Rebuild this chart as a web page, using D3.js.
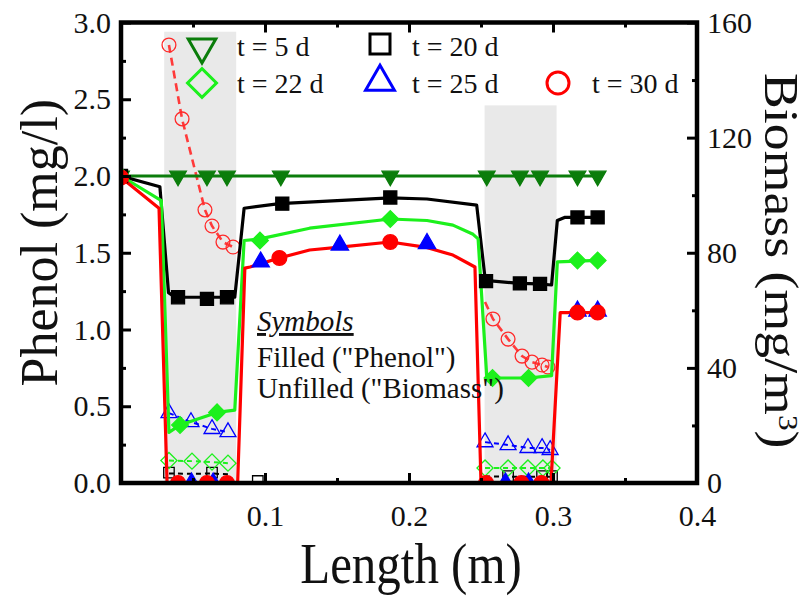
<!DOCTYPE html>
<html><head><meta charset="utf-8">
<script src="https://cdn.jsdelivr.net/npm/d3@7"></script>
<style>body{margin:0;background:#fff}svg{display:block}text{font-family:"Liberation Serif","Times New Roman",serif;fill:#111}</style>
</head><body><svg id="c" width="809" height="597"></svg>
<script>
// ---------- data ----------
const xMajorTicks = [0.1, 0.2, 0.3, 0.4];
const xMinorTicks = [0.05, 0.15, 0.25, 0.35];
const phenolTicks = [0, 0.5, 1.0, 1.5, 2.0, 2.5, 3.0];
const phenolMinor = [0.25, 0.75, 1.25, 1.75, 2.25, 2.75];
const biomassTicks = [0, 40, 80, 120, 160];
const biomassMinor = [20, 60, 100, 140];
// shaded reactor zones: [start, end, top (phenol units)]
const bands = [[0.03, 0.08, 2.94], [0.2525, 0.3025, 2.46]];

// phenol model lines
const phenolLine5 = [[0, 2.0], [0.331, 2.0]];
const phenolLine20 = [[0,2.0],[0.027,1.93],[0.033,1.24],[0.0375,1.21],[0.079,1.21],[0.0855,1.79],[0.11,1.82],[0.187,1.857],[0.2125,1.85],[0.247,1.81],[0.253,1.32],[0.277,1.30],[0.29,1.297],[0.299,1.29],[0.303,1.71],[0.308,1.73],[0.331,1.73]];
const phenolLine22 = [[0,2.0],[0.028,1.84],[0.0333,0.33],[0.041,0.378],[0.0667,0.46],[0.079,0.475],[0.0855,1.58],[0.0965,1.59],[0.131,1.66],[0.187,1.72],[0.2125,1.71],[0.2305,1.68],[0.2445,1.62],[0.248,1.59],[0.254,0.69],[0.258,0.684],[0.283,0.684],[0.299,0.70],[0.303,1.44],[0.331,1.45]];
const phenolLine30 = [[0,1.99],[0.0264,1.79],[0.032,0],[0.081,0],[0.086,1.40],[0.0896,1.407],[0.110,1.466],[0.131,1.518],[0.152,1.537],[0.187,1.57],[0.211,1.537],[0.2305,1.485],[0.2458,1.407],[0.25,0],[0.2986,0],[0.305,1.11],[0.331,1.11]];

// phenol markers (filled)
const phenolMarks5 = [[0,2.0],[0.0396,2.0],[0.0597,2.0],[0.0736,2.0],[0.111,2.0],[0.187,2.0],[0.254,2.0],[0.277,2.0],[0.291,2.0],[0.317,2.0],[0.331,2.0]];
const phenolMarks20 = [[0,2.0],[0.0396,1.21],[0.0597,1.20],[0.0736,1.21],[0.112,1.82],[0.187,1.86],[0.2535,1.315],[0.277,1.30],[0.291,1.297],[0.317,1.73],[0.331,1.73]];
const phenolMarks22 = [[0,2.0],[0.041,0.378],[0.0667,0.46],[0.0965,1.58],[0.187,1.72],[0.258,0.684],[0.283,0.684],[0.317,1.45],[0.331,1.45]];
const phenolMarks25 = [[0.049,0],[0.064,0],[0.097,1.44],[0.152,1.55],[0.2125,1.56],[0.267,0],[0.283,0],[0.317,1.12],[0.331,1.12]];
const phenolMarks30 = [[0,1.99],[0.0396,0],[0.0597,0],[0.0736,0],[0.110,1.466],[0.187,1.57],[0.2535,0],[0.278,0],[0.292,0],[0.317,1.11],[0.331,1.11]];

// biomass (unfilled markers, dashed lines)
const biomassLine30L = [[0.0333,152.2],[0.0424,126.5],[0.0583,94.9],[0.0632,89.3],[0.0708,83.7],[0.0778,82.0]];
const biomassLine30R = [[0.2528,62.9],[0.2583,57],[0.2688,50],[0.2785,44.1],[0.2854,42],[0.2924,41],[0.2965,40.3]];
const biomassMarks30 = [[0.0333,152.2],[0.0424,126.5],[0.0583,94.9],[0.0632,89.3],[0.0708,83.7],[0.0778,82.0],[0.2583,57],[0.2688,50],[0.2785,44.1],[0.2854,42],[0.2924,41],[0.2965,40.3]];
const biomassLine25L = [[0.0333,24.3],[0.0486,21.2],[0.0632,18.8],[0.0743,17.7]];
const biomassLine25R = [[0.2528,14.2],[0.2688,13.2],[0.2826,12.2],[0.2924,12.2],[0.298,11.5]];
const biomassLine22L = [[0.0333,7.8],[0.0493,7.6],[0.0632,7.3],[0.0743,6.9]];
const biomassLine22R = [[0.2528,5.2],[0.2688,5.2],[0.2826,5.2],[0.293,5.2],[0.2993,5.2]];
const biomassLine20L = [[0.0333,3.3],[0.0486,3.2],[0.0632,3.3],[0.0743,3.0]];
const biomassLine20R = [[0.2528,2.3],[0.2688,2.2],[0.2826,2.2],[0.2924,2.2],[0.2993,2.2]];
const biomassMarks20 = [[0.0333,3.6],[0.0632,3.6],[0.095,0.7],[0.2688,2.4],[0.2924,2.4],[0.2993,2.4]];

const legendLabels = ["t = 5 d", "t = 20 d", "t = 22 d", "t = 25 d", "t = 30 d"];
const noteLines = ["Symbols", "Filled (\"Phenol\")", "Unfilled (\"Biomass\")"];

// ---------- drawing ----------
const svg = d3.select("#c");
const L = 121, R = 697, T = 22.5, B = 483;
const x = d3.scaleLinear().domain([0, 0.4]).range([L, R]);
const y = d3.scaleLinear().domain([0, 3]).range([B, T]);
const y2 = d3.scaleLinear().domain([0, 160]).range([B, T]);

const C5 = "#0b7d0b", C20 = "#000", C22 = "#1cf01c", C25 = "#0000ff", C30 = "#ff0000";

svg.append("defs").append("clipPath").attr("id", "clip")
  .append("rect").attr("x", L).attr("y", T).attr("width", R - L).attr("height", B - T);

const plot = svg.append("g").attr("clip-path", "url(#clip)");
plot.selectAll("rect.band").data(bands).join("rect").attr("class", "band")
  .attr("x", d => x(d[0])).attr("width", d => x(d[1]) - x(d[0]))
  .attr("y", d => y(d[2])).attr("height", d => B - y(d[2]))
  .attr("fill", "#e9e9e9");

const line1 = d3.line().x(d => x(d[0])).y(d => y(d[1]));
const line2 = d3.line().x(d => x(d[0])).y(d => y2(d[1]));

function dashed(data, color, w, dash) {
  plot.append("path").datum(data).attr("d", line2).attr("fill", "none")
    .attr("stroke", color).attr("stroke-width", w).attr("stroke-dasharray", dash);
}
const sym = (type, size) => d3.symbol().type(type).size(size)();
function marks(data, scale, type, size, color, filled, rot, sw) {
  plot.selectAll(null).data(data).join("path")
    .attr("d", sym(type, size))
    .attr("transform", d => `translate(${x(d[0])},${scale(d[1])}) rotate(${rot || 0})`)
    .attr("fill", filled ? color : "none")
    .attr("stroke", color).attr("stroke-width", sw || 1.3);
}

// biomass dashed lines + unfilled markers
dashed(biomassLine20L, C20, 2, "5,4"); dashed(biomassLine20R, C20, 2, "5,4");
dashed(biomassLine22L, C22, 2, "5,4"); dashed(biomassLine22R, C22, 2, "5,4");
dashed(biomassLine25L, C25, 2, "5,4"); dashed(biomassLine25R, C25, 2, "5,4");
dashed(biomassLine30L, "#ff3a3a", 2.6, "8,5"); dashed(biomassLine30R, "#ff3a3a", 2.6, "8,5");
marks(biomassMarks20, y2, d3.symbolSquare, 110, C20, false, 0, 1.3);
marks(biomassLine22L.concat(biomassLine22R), y2, d3.symbolSquare, 130, C22, false, 45, 1.3);
marks(biomassLine25L.concat(biomassLine25R), y2, d3.symbolTriangle, 110, C25, false, 0, 1.3);
marks(biomassMarks30, y2, d3.symbolCircle, 150, "#ff2a2a", false, 0, 1.3);

// phenol lines
[[phenolLine5, C5], [phenolLine20, C20], [phenolLine22, C22], [phenolLine30, C30]].forEach(([d, c]) => {
  plot.append("path").datum(d).attr("d", line1).attr("fill", "none")
    .attr("stroke", c).attr("stroke-width", 3.2).attr("stroke-linejoin", "round");
});
// phenol filled markers
marks(phenolMarks5, y, d3.symbolTriangle, 120, C5, true, 180, 0);
marks(phenolMarks20, y, d3.symbolSquare, 170, C20, true, 0, 0);
marks(phenolMarks22, y, d3.symbolSquare, 140, C22, true, 45, 0);
marks(phenolMarks25, y, d3.symbolTriangle, 130, C25, true, 0, 0);
marks(phenolMarks30, y, d3.symbolCircle, 170, C30, true, 0, 0);

// ---------- axes ----------
function styleAxis(g) {
  g.select(".domain").remove();
  g.selectAll(".tick line").attr("stroke", "#000").attr("stroke-width", 3);
  g.selectAll(".tick text").attr("font-size", 30).attr("fill", "#111")
    .attr("font-family", "Liberation Serif");
}
svg.append("g").attr("transform", `translate(0,${B})`)
  .call(d3.axisBottom(x).tickValues(xMajorTicks).tickSizeInner(-10).tickSizeOuter(0).tickPadding(22).tickFormat(d3.format(".1f")))
  .call(styleAxis);
svg.append("g").attr("transform", `translate(0,${B})`)
  .call(d3.axisBottom(x).tickValues(xMinorTicks).tickSizeInner(-5).tickSizeOuter(0).tickFormat(""))
  .call(styleAxis);
svg.append("g").attr("transform", `translate(0,${T})`)
  .call(d3.axisTop(x).tickValues(xMajorTicks).tickSizeInner(-10).tickSizeOuter(0).tickFormat(""))
  .call(styleAxis);
svg.append("g").attr("transform", `translate(0,${T})`)
  .call(d3.axisTop(x).tickValues(xMinorTicks).tickSizeInner(-5).tickSizeOuter(0).tickFormat(""))
  .call(styleAxis);
svg.append("g").attr("transform", `translate(${L},0)`)
  .call(d3.axisLeft(y).tickValues(phenolTicks).tickSizeInner(-10).tickSizeOuter(0).tickPadding(10).tickFormat(d3.format(".1f")))
  .call(styleAxis);
svg.append("g").attr("transform", `translate(${L},0)`)
  .call(d3.axisLeft(y).tickValues(phenolMinor).tickSizeInner(-5).tickSizeOuter(0).tickFormat(""))
  .call(styleAxis);
svg.append("g").attr("transform", `translate(${R},0)`)
  .call(d3.axisRight(y2).tickValues(biomassTicks).tickSizeInner(-10).tickSizeOuter(0).tickPadding(10).tickFormat(d3.format("d")))
  .call(styleAxis);
svg.append("g").attr("transform", `translate(${R},0)`)
  .call(d3.axisRight(y2).tickValues(biomassMinor).tickSizeInner(-5).tickSizeOuter(0).tickFormat(""))
  .call(styleAxis);

// frame
svg.append("rect").attr("x", L).attr("y", T).attr("width", R - L).attr("height", B - T)
  .attr("fill", "none").attr("stroke", "#000").attr("stroke-width", 4.5);

// axis titles
svg.append("text").attr("transform", `translate(${(L + R) / 2 + 2},583) scale(1.02,1.18)`)
  .attr("text-anchor", "middle").attr("font-size", 48).text("Length (m)");
svg.append("text").attr("transform", `translate(57,${(T + B) / 2 - 10}) rotate(-90)`)
  .attr("text-anchor", "middle").attr("font-size", 52).text("Phenol (mg/l)");
const bt = svg.append("text").attr("transform", `translate(765,${(T + B) / 2 + 8}) rotate(90) scale(1.12,1)`)
  .attr("text-anchor", "middle").attr("font-size", 48);
bt.append("tspan").text("Biomass (mg/m");
bt.append("tspan").attr("font-size", 28).attr("dy", -14).text("3");
bt.append("tspan").attr("dy", 14).text(")");

// legend
const legendItems = [
  {type: d3.symbolTriangle, size: 330, rot: 180, color: C5, lx: 202, ly: 47, tx: 237, ty: 56},
  {type: d3.symbolSquare, size: 400, rot: 0, color: C20, lx: 380, ly: 44, tx: 412, ty: 56},
  {type: d3.symbolSquare, size: 420, rot: 45, color: C22, lx: 202, ly: 83, tx: 237, ty: 93},
  {type: d3.symbolTriangle, size: 360, rot: 0, color: C25, lx: 380, ly: 82, tx: 412, ty: 93},
  {type: d3.symbolCircle, size: 380, rot: 0, color: C30, lx: 558, ly: 83, tx: 592, ty: 93}
];
const lg = svg.append("g");
legendItems.forEach((it, i) => {
  lg.append("path").attr("d", sym(it.type, it.size))
    .attr("transform", `translate(${it.lx},${it.ly}) rotate(${it.rot})`)
    .attr("fill", "none").attr("stroke", it.color).attr("stroke-width", 3);
  lg.append("text").attr("x", it.tx).attr("y", it.ty)
    .attr("font-size", 28).text(legendLabels[i]);
});

// note
svg.append("text").attr("x", 257).attr("y", 331).attr("font-size", 29)
  .attr("font-style", "italic").attr("text-decoration", "underline").text(noteLines[0]);
svg.append("text").attr("x", 257).attr("y", 367).attr("font-size", 29).text(noteLines[1]);
svg.append("text").attr("x", 257).attr("y", 398).attr("font-size", 29).text(noteLines[2]);
</script></body></html>
